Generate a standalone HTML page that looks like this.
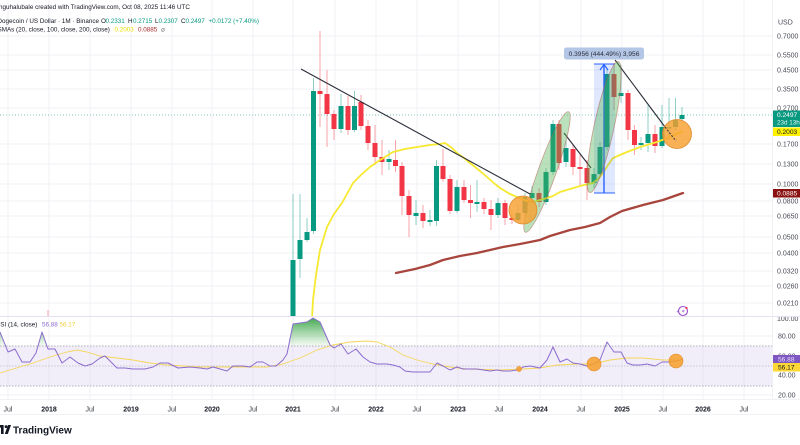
<!DOCTYPE html>
<html><head><meta charset="utf-8"><style>
html,body{margin:0;padding:0;background:#fff;}
svg{display:block;font-family:"Liberation Sans",sans-serif;}
.g{fill:#089981}.r{fill:#f23645}
.gw{stroke:#089981;stroke-width:1;opacity:.45}.rw{stroke:#f23645;stroke-width:1;opacity:.45}
.ax{font-size:7px;fill:#4a4d57}
.tx{font-size:7px;fill:#3a3d46}
.yr{font-size:7px;fill:#131722;font-weight:bold}
.grid{stroke:#f1f2f6;stroke-width:1}
</style></head><body>
<svg width="800" height="445" viewBox="0 0 800 445" xmlns="http://www.w3.org/2000/svg">
<defs>
<clipPath id="mp"><rect x="0" y="0" width="772" height="316"/></clipPath>
<clipPath id="rp"><rect x="0" y="317" width="772" height="83"/></clipPath>
<clipPath id="ra"><rect x="772" y="317" width="28" height="83"/></clipPath>
<linearGradient id="ob" x1="0" y1="318" x2="0" y2="346" gradientUnits="userSpaceOnUse">
<stop offset="0" stop-color="#2e9e3e" stop-opacity=".9"/><stop offset="1" stop-color="#4caf50" stop-opacity=".05"/>
</linearGradient>
</defs>
<rect width="800" height="445" fill="#fff"/>

<!-- grid -->
<g class="grid">
<line x1="0" x2="772" y1="36" y2="36"/><line x1="0" x2="772" y1="55" y2="55"/><line x1="0" x2="772" y1="70" y2="70"/>
<line x1="0" x2="772" y1="89" y2="89"/><line x1="0" x2="772" y1="108" y2="108"/><line x1="0" x2="772" y1="144" y2="144"/>
<line x1="0" x2="772" y1="164" y2="164"/><line x1="0" x2="772" y1="184" y2="184"/><line x1="0" x2="772" y1="201" y2="201"/>
<line x1="0" x2="772" y1="216" y2="216"/><line x1="0" x2="772" y1="237" y2="237"/><line x1="0" x2="772" y1="253" y2="253"/>
<line x1="0" x2="772" y1="271" y2="271"/><line x1="0" x2="772" y1="286" y2="286"/><line x1="0" x2="772" y1="303" y2="303"/>
<line x1="0" x2="772" y1="336" y2="336"/><line x1="0" x2="772" y1="395" y2="395"/>
<line x1="8" x2="8" y1="0" y2="399"/><line x1="49" x2="49" y1="0" y2="399"/><line x1="90" x2="90" y1="0" y2="399"/>
<line x1="131" x2="131" y1="0" y2="399"/><line x1="172" x2="172" y1="0" y2="399"/><line x1="212" x2="212" y1="0" y2="399"/>
<line x1="253" x2="253" y1="0" y2="399"/><line x1="293" x2="293" y1="0" y2="399"/><line x1="335" x2="335" y1="0" y2="399"/>
<line x1="376" x2="376" y1="0" y2="399"/><line x1="417" x2="417" y1="0" y2="399"/><line x1="458" x2="458" y1="0" y2="399"/>
<line x1="499" x2="499" y1="0" y2="399"/><line x1="540" x2="540" y1="0" y2="399"/><line x1="581" x2="581" y1="0" y2="399"/>
<line x1="622" x2="622" y1="0" y2="399"/><line x1="663" x2="663" y1="0" y2="399"/><line x1="703" x2="703" y1="0" y2="399"/>
<line x1="744" x2="744" y1="0" y2="399"/>
</g>

<!-- header -->
<text x="-1" y="9.2" font-size="6.3" fill="#131722">nguhalubale created with TradingView.com, Oct 08, 2025 11:46 UTC</text>
<g font-size="6.3">
<text x="-2.5" y="23.2" fill="#131722">Dogecoin / US Dollar · 1M · Binance</text>
<text x="101" y="23.2" fill="#131722">O</text><text x="105.5" y="23.2" fill="#089981">0.2331</text>
<text x="128" y="23.2" fill="#131722">H</text><text x="133" y="23.2" fill="#089981">0.2715</text>
<text x="155" y="23.2" fill="#131722">L</text><text x="158.5" y="23.2" fill="#089981">0.2307</text>
<text x="181" y="23.2" fill="#131722">C</text><text x="185.5" y="23.2" fill="#089981">0.2497</text>
<text x="208.5" y="23.2" fill="#089981">+0.0172 (+7.40%)</text>
<text x="-2.5" y="31.7" fill="#131722">SMAs (20, close, 100, close, 200, close)</text>
<text x="114.5" y="31.7" fill="#e8de00">0.2003</text>
<text x="138" y="31.7" fill="#a52a2a">0.0885</text>
<text x="161" y="31.7" fill="#777">⌀</text>
</g>

<!-- main pane -->
<g clip-path="url(#mp)">
<line x1="0" x2="772" y1="115" y2="115" stroke="#089981" stroke-width="1" stroke-dasharray="1 2" opacity=".5"/>
<line class="rw" x1="48" x2="48" y1="310" y2="320"/>
<!-- candles -->
<line class="gw" x1="293" x2="293" y1="194" y2="320"/><rect class="g" x="290.5" y="260" width="5" height="60"/>
<line class="gw" x1="300" x2="300" y1="194" y2="278"/><rect class="g" x="297.5" y="240" width="5" height="19"/>
<line class="gw" x1="307" x2="307" y1="218" y2="242"/><rect class="g" x="304.5" y="232" width="5" height="8"/>
<line class="gw" x1="313.5" x2="313.5" y1="78" y2="234"/><rect class="g" x="311" y="91" width="5" height="140"/>
<line class="rw" x1="320" x2="320" y1="31" y2="127"/><rect class="r" x="317.5" y="91" width="5" height="3"/>
<line class="rw" x1="327" x2="327" y1="70" y2="147"/><rect class="r" x="324.5" y="94" width="5" height="20"/>
<line class="rw" x1="334" x2="334" y1="110" y2="140"/><rect class="r" x="331.5" y="114" width="5" height="15"/>
<line class="gw" x1="341" x2="341" y1="94" y2="133"/><rect class="g" x="338.5" y="106" width="5" height="23"/>
<line class="rw" x1="348" x2="348" y1="96" y2="135"/><rect class="r" x="345.5" y="106" width="5" height="24"/>
<line class="gw" x1="354.5" x2="354.5" y1="91" y2="132"/><rect class="g" x="352" y="106" width="5" height="24"/>
<line class="rw" x1="361" x2="361" y1="95" y2="130"/><rect class="r" x="358.5" y="102" width="5" height="24"/>
<line class="rw" x1="368" x2="368" y1="120" y2="150"/><rect class="r" x="365.5" y="126" width="5" height="17"/>
<line class="rw" x1="375" x2="375" y1="125" y2="165"/><rect class="r" x="372.5" y="143" width="5" height="14"/>
<line class="rw" x1="382" x2="382" y1="140" y2="175"/><rect class="r" x="379.5" y="157" width="5" height="5"/>
<line class="gw" x1="389" x2="389" y1="150" y2="170"/><rect class="g" x="386.5" y="159" width="5" height="3"/>
<line class="rw" x1="395.5" x2="395.5" y1="140" y2="172"/><rect class="r" x="393" y="160" width="5" height="6"/>
<line class="rw" x1="402" x2="402" y1="162" y2="215"/><rect class="r" x="399.5" y="166" width="5" height="30"/>
<line class="rw" x1="409" x2="409" y1="190" y2="237"/><rect class="r" x="406.5" y="196" width="5" height="19"/>
<line class="gw" x1="416" x2="416" y1="200" y2="225"/><rect class="g" x="413.5" y="213" width="5" height="3"/>
<line class="rw" x1="423" x2="423" y1="205" y2="228"/><rect class="r" x="420.5" y="213" width="5" height="8"/>
<line class="gw" x1="430" x2="430" y1="210" y2="226"/><rect class="g" x="427.5" y="220" width="5" height="2"/>
<line class="gw" x1="436.5" x2="436.5" y1="160" y2="226"/><rect class="g" x="434" y="166" width="5" height="55"/>
<line class="rw" x1="443" x2="443" y1="149" y2="182"/><rect class="r" x="440.5" y="166" width="5" height="13"/>
<line class="rw" x1="450" x2="450" y1="175" y2="214"/><rect class="r" x="447.5" y="179" width="5" height="32"/>
<line class="gw" x1="457" x2="457" y1="180" y2="213"/><rect class="g" x="454.5" y="187" width="5" height="24"/>
<line class="rw" x1="464" x2="464" y1="180" y2="203"/><rect class="r" x="461.5" y="187" width="5" height="13"/>
<line class="rw" x1="470.5" x2="470.5" y1="185" y2="218"/><rect class="r" x="468" y="200" width="5" height="3"/>
<line class="gw" x1="477" x2="477" y1="180" y2="212"/><rect class="g" x="474.5" y="202" width="5" height="2"/>
<line class="rw" x1="484" x2="484" y1="198" y2="214"/><rect class="r" x="481.5" y="202" width="5" height="7"/>
<line class="rw" x1="491" x2="491" y1="200" y2="230"/><rect class="r" x="488.5" y="209" width="5" height="6"/>
<line class="gw" x1="498" x2="498" y1="198" y2="218"/><rect class="g" x="495.5" y="203" width="5" height="12"/>
<line class="rw" x1="505" x2="505" y1="200" y2="225"/><rect class="r" x="502.5" y="203" width="5" height="15"/>
<line class="rw" x1="512" x2="512" y1="212" y2="224"/><rect class="r" x="509.5" y="218" width="5" height="2"/>
<line class="gw" x1="518" x2="518" y1="205" y2="222"/><rect class="g" x="515.5" y="213" width="5" height="7"/>
<line class="gw" x1="525" x2="525" y1="193" y2="216"/><rect class="g" x="522.5" y="197" width="5" height="16"/>
<line class="gw" x1="532" x2="532" y1="186" y2="202"/><rect class="g" x="529.5" y="193" width="5" height="5"/>
<line class="rw" x1="539" x2="539" y1="188" y2="207"/><rect class="r" x="536.5" y="193" width="5" height="9"/>
<line class="gw" x1="546" x2="546" y1="168" y2="205"/><rect class="g" x="543.5" y="172" width="5" height="30"/>
<line class="gw" x1="553" x2="553" y1="120" y2="175"/><rect class="g" x="550.5" y="124" width="5" height="48"/>
<line class="rw" x1="559" x2="559" y1="120" y2="170"/><rect class="r" x="556.5" y="124" width="5" height="39"/>
<line class="gw" x1="566" x2="566" y1="140" y2="167"/><rect class="g" x="563.5" y="148" width="5" height="14"/>
<line class="rw" x1="573" x2="573" y1="145" y2="175"/><rect class="r" x="570.5" y="149" width="5" height="18"/>
<line class="rw" x1="580" x2="580" y1="155" y2="185"/><rect class="r" x="577.5" y="167" width="5" height="2"/>
<line class="rw" x1="587" x2="587" y1="160" y2="200"/><rect class="r" x="584.5" y="168" width="5" height="15"/>
<line class="gw" x1="594" x2="594" y1="168" y2="188"/><rect class="g" x="591.5" y="174" width="5" height="9"/>
<line class="gw" x1="600" x2="600" y1="142" y2="178"/><rect class="g" x="597.5" y="147" width="5" height="27"/>
<line class="gw" x1="607" x2="607" y1="68" y2="150"/><rect class="g" x="604.5" y="74" width="5" height="73"/>
<line class="rw" x1="614" x2="614" y1="63" y2="110"/><rect class="r" x="611.5" y="74" width="5" height="23"/>
<line class="gw" x1="621" x2="621" y1="65" y2="103"/><rect class="g" x="618.5" y="93" width="5" height="3"/>
<line class="rw" x1="628" x2="628" y1="90" y2="140"/><rect class="r" x="625.5" y="93" width="5" height="37"/>
<line class="rw" x1="634.5" x2="634.5" y1="125" y2="155"/><rect class="r" x="632" y="130" width="5" height="15"/>
<line class="gw" x1="641" x2="641" y1="137" y2="150"/><rect class="g" x="638.5" y="143" width="5" height="2"/>
<line class="gw" x1="648" x2="648" y1="105" y2="152"/><rect class="g" x="645.5" y="134" width="5" height="9"/>
<line class="rw" x1="655" x2="655" y1="125" y2="153"/><rect class="r" x="652.5" y="134" width="5" height="12"/>
<line class="gw" x1="662" x2="662" y1="105" y2="148"/><rect class="g" x="659.5" y="127" width="5" height="19"/>
<line class="gw" x1="669" x2="669" y1="98" y2="140"/><rect class="g" x="666.5" y="127" width="5" height="1.5"/>
<line class="gw" x1="675.5" x2="675.5" y1="98" y2="130"/><rect class="g" x="673" y="120" width="5" height="7"/>
<line class="gw" x1="682" x2="682" y1="107" y2="121"/><rect class="g" x="679.5" y="115" width="5" height="4"/>

<!-- SMA 20 -->
<polyline fill="none" stroke="#f6e92f" stroke-width="1.8" stroke-linejoin="round" points="312,318 313,300 316,275 320,250 327,227 334,214 342,203 353,183 362,174 370,167 380,160 393,152 405,149 417,147 430,145 440,144 445,143 452,148 457,153 464,158 470,163 480,171 487,177 495,184 500,188 510,194 517,197 527,201 533,202 540,200 547,198 553,196 560,192 570,189 580,186 593,183 598,179 603,173 608,165 613,158 620,155 627,152 640,147 657,142 670,137 683,131"/>
<!-- SMA 100 -->
<polyline fill="none" stroke="#a8453d" stroke-width="2.3" stroke-linejoin="round" stroke-linecap="round" points="396,273 415,269 430,265 443,260 460,256 477,253 490,250 503,247 520,244 540,240 550,236 560,233 570,230 585,227 600,223 610,217 622,211 643,205 663,200 683,193"/>

<!-- trend lines -->
<line x1="301" y1="69" x2="530" y2="194" stroke="#2a2e39" stroke-width="1.1"/>
<line x1="564" y1="133" x2="591" y2="168" stroke="#2a2e39" stroke-width="1.1"/>
<line x1="615" y1="60" x2="665" y2="127" stroke="#2a2e39" stroke-width="1.1"/>

<!-- measurement -->
<rect x="594" y="64" width="21" height="129" fill="#2962ff" fill-opacity=".15"/>
<line x1="594" x2="615" y1="64" y2="64" stroke="#2962ff" stroke-width="1"/>
<line x1="594" x2="615" y1="193" y2="193" stroke="#2962ff" stroke-width="1"/>
<line x1="604" x2="604" y1="64.5" y2="193" stroke="#2962ff" stroke-width="1.4"/>
<polyline points="600,70 604,64.5 608,70" fill="none" stroke="#2962ff" stroke-width="1.2"/>

<!-- ellipses -->
<ellipse cx="547" cy="172" rx="64" ry="9" transform="rotate(-70.3 547 172)" fill="#4caf50" fill-opacity=".38" stroke="#b0584a" stroke-opacity=".55" stroke-width=".8"/>
<ellipse cx="604" cy="127" rx="67" ry="10" transform="rotate(-77.8 604 127)" fill="#4caf50" fill-opacity=".38" stroke="#b0584a" stroke-opacity=".55" stroke-width=".8"/>

<!-- orange circles -->
<circle cx="523" cy="210" r="14" fill="#f7a02f" fill-opacity=".82" stroke="#e08a2a" stroke-width=".8"/>
<circle cx="677" cy="134" r="14.5" fill="#f7a02f" fill-opacity=".82" stroke="#e08a2a" stroke-width=".8"/>
<line x1="665" y1="127" x2="676" y2="141" stroke="#2a2e39" stroke-width="1" stroke-dasharray="2 1.5"/>

<!-- label -->
<rect x="564" y="47.5" width="80" height="12" rx="2.5" fill="#b4c6e6"/>
<text x="604" y="55.8" font-size="6.6" fill="#2a2e39" text-anchor="middle">0.3956 (444.49%) 3,956</text>
</g>

<!-- icon -->
<circle cx="683" cy="311" r="4.5" fill="none" stroke="#9c4dcc" stroke-width="1.1"/>
<path d="M684 308.5 L681.8 311.5 L683.6 311.5 L682.4 313.8 L684.8 310.5 L683 310.5 Z" fill="#9c4dcc"/>
<circle cx="686.5" cy="308" r="1.1" fill="#f23645"/>
<text x="676.5" y="313" font-size="5" fill="#7e57c2">+</text>

<!-- pane separators -->
<line x1="0" x2="800" y1="316.5" y2="316.5" stroke="#e4e2f2" stroke-width="1"/>
<line x1="772.5" x2="772.5" y1="0" y2="400" stroke="#eef0f4" stroke-width="1"/>
<line x1="0" x2="800" y1="399.5" y2="399.5" stroke="#f0f1f5" stroke-width="1"/>
<line x1="0" x2="800" y1="414.5" y2="414.5" stroke="#f0f1f5" stroke-width="1"/>

<!-- RSI pane -->
<g clip-path="url(#rp)">
<rect x="0" y="346" width="772" height="40" fill="#7e57c2" fill-opacity=".1"/>
<line x1="0" x2="772" y1="346" y2="346" stroke="#9598a1" stroke-width=".8" stroke-dasharray="1.5 1.5"/>
<line x1="0" x2="772" y1="366" y2="366" stroke="#b8bac2" stroke-width=".7" stroke-dasharray="1.5 1.5"/>
<line x1="0" x2="772" y1="386" y2="386" stroke="#9598a1" stroke-width=".8" stroke-dasharray="1.5 1.5"/>
<polygon fill="url(#ob)" points="289,346 293,324 300,323 307,322 313,318 320,322 327,338 330,345 330.5,346"/>
<polygon fill="url(#ob)" points="0,346 0,332 5.6,346"/>
<polygon fill="url(#ob)" points="38,346 42,332 47,346"/>
<polygon fill="url(#ob)" points="605.5,346 607,342 609,346"/>
<polyline fill="none" stroke="#f5d55a" stroke-width=".9" points="0,373 33,363 50,357 67,352 77,350 87,352 100,356 117,358 133,360 150,363 167,365 183,366 200,367 250,367 267,367 283,364 300,358 317,350 333,345 350,342 367,341 377,342 390,347 403,355 417,360 433,364 450,367 467,369 500,370 523,369 540,368 557,365 577,364 593,364 610,360 627,358 643,358 663,360 683,360"/>
<polyline fill="none" stroke="#8b6bd0" stroke-width="1" stroke-linejoin="round" points="0,332 8,352 15,349 22,362 30,362 36,353 42,332 48,349 55,349 62,363 70,357 78,363 85,366 92,364 100,358 105,356 112,363 117,368 125,368 133,369 145,369 153,367 160,363 168,363 178,368 190,367 200,368 207,369 213,367 220,369 227,371 233,366 243,366 250,367 257,362 263,362 270,366 276,366 283,360 287,354 293,324 300,323 307,322 313,318 320,322 327,338 330,345 334,348 341,344 348,354 356,349 363,357 370,362 377,364 387,364 393,365 400,367 405,371 413,372 422,372 430,372 437,363 443,366 450,370 457,367 463,369 477,369 490,371 497,370 503,371 510,371 517,370 520,369 523,367 530,366 535,367 540,368 547,360 553,347 560,362 567,359 573,363 580,364 587,366 594,364 600,360 607,342 614,352 621,352 627,363 633,365 640,365 647,364 655,366 662,362 668,362 676,361 683,359"/>
<circle cx="519" cy="369" r="2.6" fill="#f7a02f" fill-opacity=".9" stroke="#e08a2a" stroke-width=".5"/>
<circle cx="594" cy="364" r="7" fill="#f7a02f" fill-opacity=".88" stroke="#e08a2a" stroke-width=".6"/>
<circle cx="676" cy="361" r="7" fill="#f7a02f" fill-opacity=".88" stroke="#e08a2a" stroke-width=".6"/>
</g>
<g font-size="6.3">
<text x="-4.3" y="326.3" fill="#131722">RSI (14, close)</text>
<text x="42" y="326.3" fill="#8b6bd0">56.88</text>
<text x="59.5" y="326.3" fill="#f2cf3e">56.17</text>
</g>

<!-- price axis -->
<text x="778" y="24.5" class="ax">USD</text>
<g class="ax">
<text x="777" y="38.5">0.7000</text><text x="777" y="57.5">0.5500</text><text x="777" y="72.5">0.4500</text>
<text x="777" y="91.5">0.3500</text><text x="777" y="110.5">0.2700</text><text x="777" y="146.5">0.1700</text>
<text x="777" y="166.5">0.1300</text><text x="777" y="186.5">0.1000</text><text x="777" y="203.5">0.0800</text>
<text x="777" y="218.5">0.0650</text><text x="777" y="239.5">0.0500</text><text x="777" y="255.5">0.0400</text>
<text x="777" y="273.5">0.0320</text><text x="777" y="288.5">0.0260</text><text x="777" y="305.5">0.0210</text>
</g>
<rect x="773" y="110.5" width="27" height="16.5" fill="#089981"/>
<text x="777" y="116.8" font-size="6.6" fill="#fff">0.2497</text>
<text x="777" y="124.6" font-size="6.3" fill="#e6f5f2">23d 13h</text>
<rect x="773" y="127.5" width="27" height="8.5" fill="#fff200"/>
<text x="777" y="134.2" font-size="6.6" fill="#131722">0.2003</text>
<rect x="773" y="189" width="27" height="8.5" fill="#8a1111"/>
<text x="777" y="195.7" font-size="6.6" fill="#fff">0.0885</text>

<!-- RSI axis -->
<g clip-path="url(#ra)" class="ax">
<text x="777" y="321">100.00</text><text x="778" y="338.5">80.00</text><text x="778" y="358.5">60.00</text>
<text x="778" y="377.5">40.00</text><text x="778" y="397.5">20.00</text>
</g>
<rect x="773" y="355" width="27" height="8" fill="#7e57c2"/>
<text x="778" y="361.5" font-size="6.6" fill="#e8e0f8">56.88</text>
<rect x="773" y="363" width="27" height="8.5" fill="#fdd835"/>
<text x="778" y="369.7" font-size="6.6" fill="#131722">56.17</text>

<!-- time axis -->
<g text-anchor="middle">
<text x="8" y="411.5" class="tx">Jul</text><text x="49" y="411.5" class="yr">2018</text>
<text x="90" y="411.5" class="tx">Jul</text><text x="131" y="411.5" class="yr">2019</text>
<text x="172" y="411.5" class="tx">Jul</text><text x="212" y="411.5" class="yr">2020</text>
<text x="253" y="411.5" class="tx">Jul</text><text x="293" y="411.5" class="yr">2021</text>
<text x="335" y="411.5" class="tx">Jul</text><text x="376" y="411.5" class="yr">2022</text>
<text x="417" y="411.5" class="tx">Jul</text><text x="458" y="411.5" class="yr">2023</text>
<text x="499" y="411.5" class="tx">Jul</text><text x="540" y="411.5" class="yr">2024</text>
<text x="581" y="411.5" class="tx">Jul</text><text x="622" y="411.5" class="yr">2025</text>
<text x="663" y="411.5" class="tx">Jul</text><text x="703" y="411.5" class="yr">2026</text>
<text x="744" y="411.5" class="tx">Jul</text>
</g>

<!-- watermark -->
<rect x="-2" y="425" width="5.5" height="2.6" fill="#131722"/>
<rect x="1" y="425" width="2.6" height="9" fill="#131722"/>
<circle cx="6" cy="426.6" r="1.4" fill="#131722"/>
<polygon points="4.8,434 7.8,434 11,425 8,425" fill="#131722"/>
<text x="13" y="433.5" font-size="10" font-weight="bold" fill="#131722">TradingView</text>
</svg>
</body></html>
